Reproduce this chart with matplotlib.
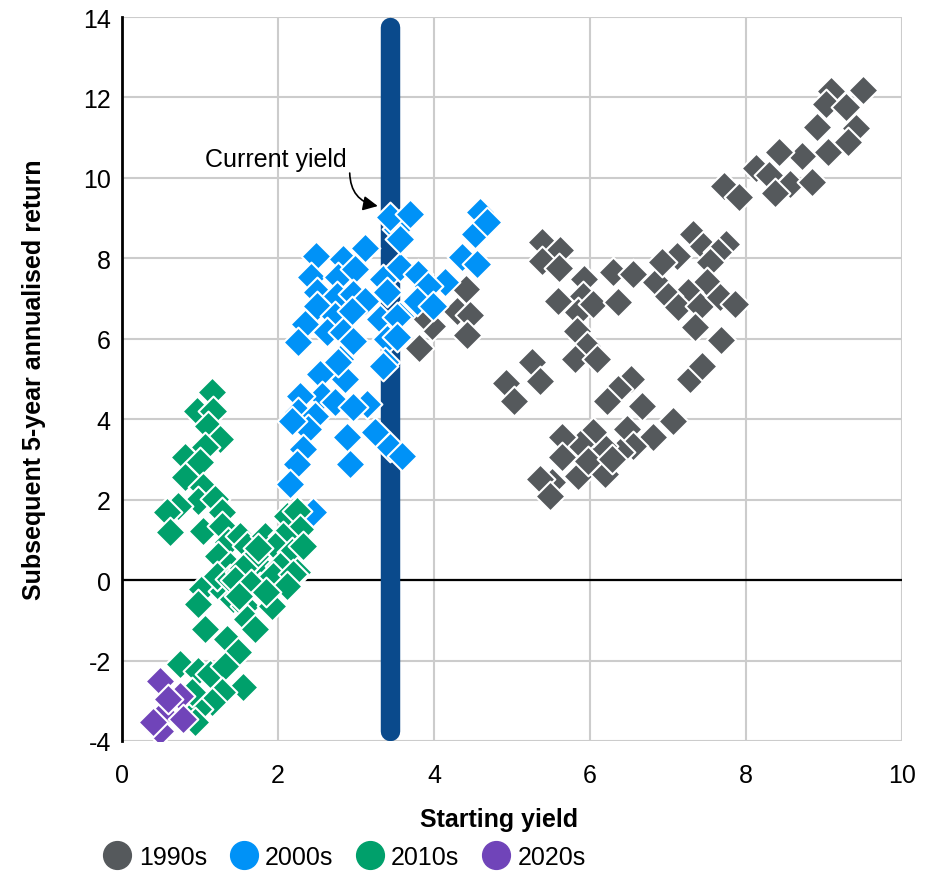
import matplotlib
matplotlib.use("Agg")
import matplotlib.pyplot as plt
from matplotlib.lines import Line2D

plt.rcParams['font.family'] = ['Liberation Sans', 'DejaVu Sans']
plt.rcParams['axes.unicode_minus'] = False

# ---- data (starting yield, subsequent 5y annualised return) ----
x_1990s = [9.50, 9.09, 9.03, 9.29, 8.91, 9.41, 9.31, 9.05, 8.72, 8.42, 8.13, 8.29, 7.72, 7.91, 8.56, 8.85, 8.37,
           5.38, 5.62, 5.38, 5.60, 5.92, 6.29, 6.55, 6.85, 7.12, 6.92, 7.32, 7.45, 7.74, 7.64, 7.54, 7.50, 7.26,
           7.00, 7.13, 7.41, 7.67, 7.86, 7.35, 7.68, 5.91, 5.59, 5.85, 6.04, 6.36, 5.83, 5.96, 5.81, 6.09, 5.26,
           5.36, 4.92, 5.03, 7.28, 7.44, 6.53, 6.36, 6.22, 6.67, 7.06, 6.47, 6.81, 6.55, 6.38, 6.17, 6.04, 5.87,
           5.64, 5.64, 5.85, 6.19, 5.97, 6.28, 5.51, 5.36, 5.49,
           4.41, 4.29, 4.46, 4.42, 3.97, 3.86, 3.81]
y_1990s = [12.18, 12.16, 11.83, 11.76, 11.26, 11.24, 10.89, 10.64, 10.54, 10.64, 10.24, 10.07, 9.80, 9.52, 9.85, 9.90, 9.62,
           8.40, 8.20, 7.93, 7.76, 7.48, 7.66, 7.61, 7.41, 8.06, 7.91, 8.60, 8.31, 8.35, 8.15, 7.91, 7.41, 7.16,
           7.06, 6.79, 6.81, 7.04, 6.86, 6.29, 5.97, 7.06, 6.94, 6.66, 6.86, 6.91, 6.19, 5.82, 5.49, 5.49, 5.42,
           4.95, 4.90, 4.45, 5.00, 5.32, 5.00, 4.75, 4.45, 4.33, 3.95, 3.75, 3.56, 3.33, 3.18, 3.33, 3.68, 3.38,
           3.56, 3.06, 2.59, 2.64, 2.96, 3.01, 2.44, 2.51, 2.09,
           7.24, 6.69, 6.59, 6.09, 6.32, 6.59, 5.77]

x_2000s = [2.49, 2.83, 3.12, 2.42, 2.77, 2.99, 2.50, 2.76, 2.96, 3.12, 2.50, 2.73, 2.95, 2.35, 2.63, 2.83, 2.26,
           2.96, 3.31, 3.35, 3.56, 3.40, 3.56, 3.40, 3.53, 3.44, 3.69, 3.56, 3.79, 3.37, 2.79, 2.54,
           4.59, 4.53, 4.36, 4.55, 4.68, 4.14, 3.92, 3.78, 3.99, 3.53, 3.53,
           2.54, 2.86, 2.56, 2.28, 2.26, 2.47, 2.73, 3.14, 2.96, 2.38, 2.18, 2.32, 2.24, 2.15, 2.88, 2.92,
           3.24, 3.44, 3.59, 3.35, 2.77, 2.45]
y_2000s = [8.06, 7.98, 8.25, 7.53, 7.53, 7.73, 7.16, 7.06, 7.11, 6.94, 6.81, 6.56, 6.69, 6.36, 6.16, 6.16, 5.92,
           5.94, 6.49, 7.48, 7.78, 7.16, 6.56, 5.99, 8.73, 9.03, 9.10, 8.48, 7.61, 5.42, 5.49, 5.17,
           9.15, 8.60, 8.03, 7.86, 8.90, 7.41, 7.31, 6.94, 6.81, 6.54, 6.04,
           5.12, 5.00, 4.58, 4.58, 4.18, 4.08, 4.43, 4.38, 4.30, 3.75, 3.95, 3.26, 2.88, 2.39, 3.56, 2.88,
           3.68, 3.31, 3.08, 5.32, 5.42, 1.70]

x_2010s = [1.15, 0.96, 1.17, 1.10, 1.26, 1.06, 0.81, 1.00, 0.81, 1.04, 0.97, 1.19, 0.72, 0.58, 0.62, 1.04,
           1.28, 1.28, 1.36, 1.51, 1.23, 1.60, 1.83, 2.12, 2.24, 2.28, 2.06, 1.96, 2.18, 2.32, 1.77, 2.03, 1.38, 2.24,
           1.03, 0.97, 1.06, 1.35, 1.49, 1.29, 1.42, 1.58, 1.92, 1.77, 1.94, 2.19, 2.12, 1.60, 1.71, 1.22, 1.38, 1.51,
           0.74, 0.97, 1.13, 1.32, 1.55, 1.28, 1.15, 0.97, 0.90, 0.94,
           1.70, 1.55, 1.45, 1.65, 1.85, 1.50, 1.75]
y_2010s = [4.67, 4.20, 4.20, 3.83, 3.51, 3.31, 3.06, 2.93, 2.56, 2.31, 1.96, 2.01, 1.84, 1.69, 1.19, 1.22,
           1.69, 1.34, 0.94, 1.09, 0.60, 0.85, 1.09, 1.59, 1.72, 1.27, 1.09, 0.85, 0.70, 0.85, 0.35, 0.35, 0.35, 0.20,
           -0.22, -0.60, -1.22, -1.47, -1.79, -0.27, -0.47, -0.65, -0.65, -0.17, 0.10, 0.15, -0.15, -0.97, -1.22, 0.10, 0.02, 0.20,
           -2.09, -2.26, -2.34, -2.14, -2.66, -2.79, -3.03, -3.21, -2.79, -3.53,
           0.60, 0.30, 0.00, -0.10, -0.30, -0.40, 0.80]

x_2020s = [0.49, 0.74, 0.53, 0.78, 0.49, 0.40, 0.59]
y_2020s = [-2.51, -2.88, -3.33, -3.46, -3.75, -3.53, -2.96]

series_labels = ['1990s', '2000s', '2010s', '2020s']
series_colors = ['#55595c', '#0092f7', '#00a06b', '#7044b9']
current_yield = 3.44

fig = plt.figure(figsize=(9.34, 8.79), dpi=100)
ax = fig.add_axes([0.1306, 0.1559, 0.835, 0.8236])

ax.set_xlim(0, 10)
ax.set_ylim(-4, 14)
ax.set_xticks(range(0, 11, 2))
ax.set_yticks(range(-4, 15, 2))
ax.grid(True, color='#cccccc', linewidth=1.5, zorder=0)
ax.set_axisbelow(True)
for s in ['top', 'right', 'bottom']:
    ax.spines[s].set_visible(False)
ax.spines['left'].set_color('black')
ax.spines['left'].set_linewidth(2)
ax.spines['left'].set_zorder(1)
ax.axhline(0, color='black', linewidth=1.6, zorder=1)
ax.tick_params(length=0, labelsize=18)
ax.tick_params(axis='y', pad=8)
ax.tick_params(axis='x', pad=16)

# current yield bar
ax.plot([current_yield, current_yield], [-3.75, 13.75], color='#0a4a8c', linewidth=14,
        solid_capstyle='round', zorder=2)

data = [(x_1990s, y_1990s), (x_2000s, y_2000s), (x_2010s, y_2010s), (x_2020s, y_2020s)]
for (xs, ys), c in zip(data, series_colors):
    ax.scatter(xs, ys, marker='D', s=230, color=c, edgecolors='white', linewidths=1.5, zorder=3)

ax.text(1.97, 10.47, 'Current yield', fontsize=18, ha='center', va='center')
ax.annotate('', xy=(3.28, 9.30), xytext=(2.92, 10.12),
            arrowprops=dict(arrowstyle='-|>', color='black', lw=1.2, mutation_scale=22,
                            shrinkA=0, shrinkB=0, connectionstyle='arc3,rad=0.4'))

ax.set_xlabel('Starting yield', fontsize=18, fontweight='bold')
ax.set_ylabel('Subsequent 5-year annualised return', fontsize=18, fontweight='bold')
ax.xaxis.set_label_coords(0.483, -0.091)
ax.yaxis.set_label_coords(-0.097, 0.5)

handles = [Line2D([], [], marker='o', linestyle='none', markersize=20, markerfacecolor=c,
                  markeredgecolor=c) for c in series_colors]
fig.legend(handles, series_labels, loc='center left', bbox_to_anchor=(0.111, 0.024), ncol=4,
           frameon=False, fontsize=18, handletextpad=0.3, columnspacing=0.92, handlelength=1.1,
           borderaxespad=0, borderpad=0)

fig.savefig('out.png', dpi=100)
